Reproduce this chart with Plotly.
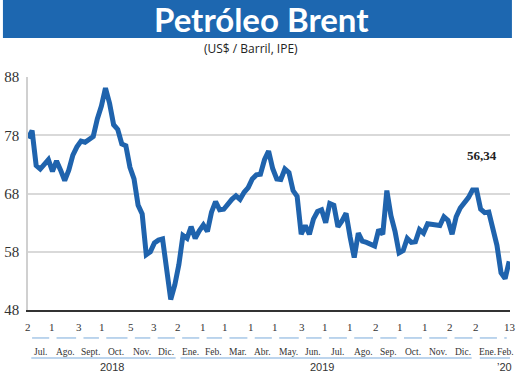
import plotly.graph_objects as go
import pandas as pd

# ---------------- data ----------------
dates = pd.date_range("2018-07-02", periods=119, freq="5D")
brent = [77.5, 78.8, 72.8, 72.2, 73.0, 73.8, 71.8, 73.6, 72.0, 70.2,
         72.0, 74.6, 76.0, 77.0, 76.8, 77.3, 77.8, 80.8, 83.0, 86.1,
         83.5, 79.8, 79.0, 76.5, 76.2, 72.5, 70.5, 66.0, 64.5, 57.5,
         58.0, 59.5, 60.0, 60.2, 55.0, 49.8, 52.3, 55.8, 60.8, 60.3,
         62.3, 60.3, 61.6, 62.6, 61.5, 64.8, 66.6, 65.2, 65.3, 66.2,
         67.0, 67.6, 67.0, 68.2, 69.0, 70.5, 71.2, 71.3, 73.8, 75.3,
         72.3, 70.5, 70.4, 72.2, 71.6, 68.5, 67.5, 61.0, 62.5, 61.0,
         63.6, 64.9, 65.2, 63.0, 66.3, 66.0, 62.3, 63.3, 64.6, 60.5,
         57.0, 61.2, 59.8, 59.6, 59.2, 59.0, 61.8, 61.0, 68.5, 64.2,
         61.5, 57.8, 58.2, 60.3, 59.6, 59.7, 61.8, 61.2, 62.8, 62.7,
         62.6, 62.5, 64.0, 63.4, 61.0, 64.0, 65.5, 66.3, 67.3, 68.6,
         68.6, 65.3, 64.7, 64.8, 61.8, 59.1, 54.4, 53.4, 56.34]

tick_dates = ["2018-07-02", "2018-08-01", "2018-09-03", "2018-10-01", "2018-11-05",
              "2018-12-03", "2019-01-02", "2019-02-01", "2019-03-01", "2019-04-01",
              "2019-05-01", "2019-06-03", "2019-07-01", "2019-08-01", "2019-09-02",
              "2019-10-01", "2019-11-01", "2019-12-02", "2020-01-02", "2020-02-13"]
tick_text = ["2", "1", "3", "1", "5", "3", "2", "1", "1", "1",
             "1", "3", "1", "1", "2", "1", "1", "2", "2", "13"]

month_starts = ["2018-07-02", "2018-08-01", "2018-09-03", "2018-10-01", "2018-11-05",
                "2018-12-03", "2019-01-02", "2019-02-01", "2019-03-01", "2019-04-01",
                "2019-05-01", "2019-06-03", "2019-07-01", "2019-08-01", "2019-09-02",
                "2019-10-01", "2019-11-01", "2019-12-02", "2020-01-02", "2020-02-01",
                "2020-02-13"]
month_names = ["Jul.", "Ago.", "Sept.", "Oct.", "Nov.", "Dic.", "Ene.", "Feb.", "Mar.", "Abr.",
               "May.", "Jun.", "Jul.", "Ago.", "Sep.", "Oct.", "Nov.", "Dic.", "Ene.", "Feb."]

years = ["2018", "2019", "\u201920"]
year_pos = ["2018-10-13", "2019-06-27", "2020-02-06"]
year_spans = [("2018-07-06", "2018-12-30"), ("2019-01-05", "2019-12-28"), ("2020-01-07", "2020-02-13")]

last_label = "56,34"

# ---------------- figure ----------------
BLUE = "#1f63ad"
fig = go.Figure()
fig.add_trace(go.Scatter(x=dates, y=brent, mode="lines",
                         line=dict(color=BLUE, width=5), hoverinfo="skip"))

shapes = []
annotations = []

# title banner
shapes.append(dict(type="rect", xref="paper", yref="paper", x0=-0.052, x1=1.004,
                   y0=1.167, y1=1.335, fillcolor="#1d67b0", line=dict(width=0), layer="below"))
annotations.append(dict(text="<b>Petróleo Brent</b>", xref="paper", yref="paper",
                        x=0.484, y=1.247, showarrow=False, xanchor="center", yanchor="middle",
                        font=dict(family="Lato", size=33, color="white")))
annotations.append(dict(text="(US$ / Barril, IPE)", xref="paper", yref="paper",
                        x=0.462, y=1.122, showarrow=False, xanchor="center", yanchor="middle",
                        font=dict(family="Open Sans", size=12, color="#222")))

# last value label
annotations.append(dict(text="<b>" + last_label + "</b>", xref="x", yref="y",
                        x="2020-01-10", y=74.5, showarrow=False,
                        font=dict(family="Liberation Serif", size=13, color="#222")))

# day numbers
for d, t in zip(tick_dates, tick_text):
    annotations.append(dict(text=t, xref="x", yref="paper", x=d, y=-0.073,
                            showarrow=False, xanchor="center", yanchor="middle",
                            font=dict(family="Liberation Sans Narrow", size=11, color="#333")))

# month labels and underline segments
for i, name in enumerate(month_names):
    s = pd.Timestamp(month_starts[i])
    e = pd.Timestamp(month_starts[i + 1])
    mid = s + (e - s) / 2
    annotations.append(dict(text=name, xref="x", yref="paper", x=mid, y=-0.180,
                            showarrow=False, xanchor="center", yanchor="middle",
                            font=dict(family="Liberation Sans Narrow", size=9.5, color="#333")))
    shapes.append(dict(type="line", xref="x", yref="paper",
                       x0=s + pd.Timedelta(days=5), x1=e - pd.Timedelta(days=4),
                       y0=-0.120, y1=-0.120, line=dict(color="#a7c7e7", width=1.5)))

# year labels and underline
for y, p, (a, b) in zip(years, year_pos, year_spans):
    annotations.append(dict(text=y, xref="x", yref="paper", x=p, y=-0.244,
                            showarrow=False, xanchor="center", yanchor="middle",
                            font=dict(family="Liberation Sans", size=11, color="#333")))
    shapes.append(dict(type="line", xref="x", yref="paper", x0=a, x1=b,
                       y0=-0.206, y1=-0.206, line=dict(color="#a7c7e7", width=1.5)))

fig.update_layout(
    width=520, height=373,
    margin=dict(l=28, r=10, t=77, b=63, autoexpand=False),
    paper_bgcolor="white", plot_bgcolor="white",
    showlegend=False,
    shapes=shapes, annotations=annotations,
    xaxis=dict(type="date", range=["2018-07-02", "2020-02-13"], automargin=False,
               showgrid=False, showticklabels=False, ticks="",
               showline=True, linecolor="#333333", linewidth=2, zeroline=False),
    yaxis=dict(range=[48, 88], tickvals=[48, 58, 68, 78, 88], automargin=False,
               showgrid=True, gridcolor="#d9d9d9", gridwidth=1.5,
               showline=True, linecolor="#d0d0d0", linewidth=1.5,
               zeroline=False, ticks="", ticklabelstandoff=4,
               tickfont=dict(family="Liberation Serif", size=15, color="#333")),
)

fig.write_html("out.html", config={"displayModeBar": False},
               post_script="document.body.style.margin='0';document.body.style.overflow='hidden';")
